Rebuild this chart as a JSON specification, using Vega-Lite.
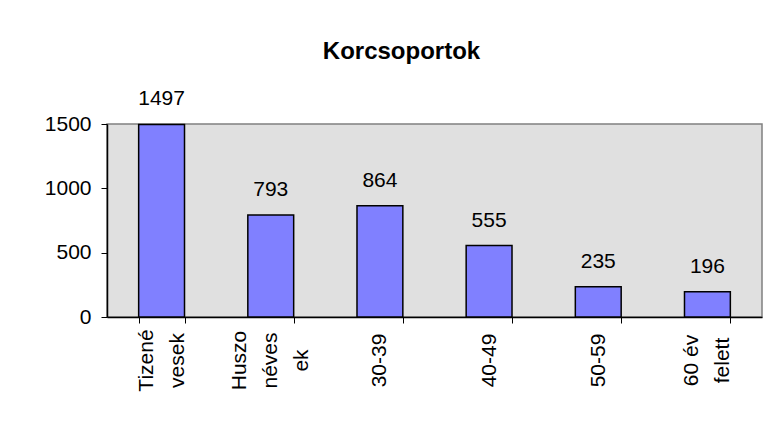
{
  "$schema": "https://vega.github.io/schema/vega-lite/v6.json",
  "autosize": {"type": "none"},
  "width": 655,
  "height": 193,
  "padding": {"left": 107, "top": 124, "right": 17, "bottom": 104},
  "background": "white",
  "title": {
    "text": "Korcsoportok",
    "font": "Liberation Sans",
    "fontSize": 24,
    "fontWeight": "bold",
    "color": "black",
    "anchor": "middle",
    "frame": "group",
    "baseline": "alphabetic",
    "offset": 5,
    "dx": -33
  },
  "data": {
    "values": [
      {"korcsoport": "Tizené|vesek", "letszam": 1497},
      {"korcsoport": "Huszo|néves|ek", "letszam": 793},
      {"korcsoport": "30-39", "letszam": 864},
      {"korcsoport": "40-49", "letszam": 555},
      {"korcsoport": "50-59", "letszam": 235},
      {"korcsoport": "60 év|felett", "letszam": 196}
    ]
  },
  "encoding": {
    "x": {
      "field": "korcsoport",
      "type": "nominal",
      "sort": null,
      "scale": {"paddingInner": 0.58, "paddingOuter": 0.29},
      "axis": {
        "title": null,
        "labelExpr": "split((length(split(datum.label, '|')) == 1 ? '\u2800|\u2800|' : (length(split(datum.label, '|')) == 2 ? '\u2800|' : '')) + join(split(datum.label, '|'), '|\u2800|'), '|')",
        "labelAngle": -90,
        "labelAlign": "center",
        "labelBaseline": "middle",
        "labelPadding": 37,
        "labelLineHeight": 15.5,
        "labelOffset": -31,
        "tickBand": "extent",
        "tickSize": 6,
        "labelLimit": 0
      }
    },
    "y": {
      "field": "letszam",
      "type": "quantitative",
      "scale": {"domain": [0, 1500], "nice": false},
      "axis": {
        "title": null,
        "values": [0, 500, 1000, 1500],
        "format": "d",
        "grid": false,
        "tickSize": 6,
        "labelPadding": 10
      }
    }
  },
  "layer": [
    {
      "mark": {"type": "bar", "fill": "#8080FF", "stroke": "black", "strokeWidth": 1.5}
    },
    {
      "mark": {"type": "text", "font": "Liberation Sans", "fontSize": 21, "color": "black", "baseline": "alphabetic", "dy": -19},
      "encoding": {"text": {"field": "letszam", "type": "quantitative"}}
    }
  ],
  "config": {
    "view": {"fill": "#E0E0E0", "stroke": "#808080", "strokeWidth": 1.5},
    "axis": {
      "domainColor": "black",
      "domainWidth": 1.5,
      "tickColor": "black",
      "tickWidth": 1,
      "labelColor": "black",
      "labelFont": "Liberation Sans",
      "labelFontSize": 21
    }
  }
}
